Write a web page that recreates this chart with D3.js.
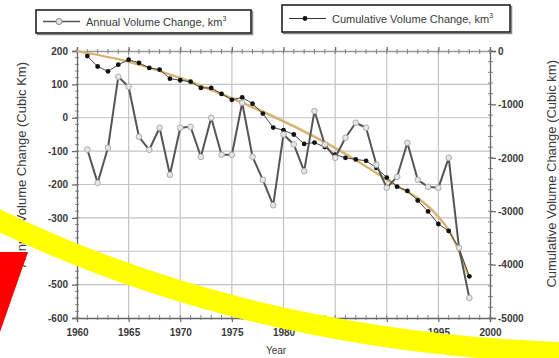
<!DOCTYPE html>
<html>
<head>
<meta charset="utf-8">
<script src="https://cdn.jsdelivr.net/npm/d3@7"></script>
<style>
  html, body { margin: 0; padding: 0; background: #fff; }
  svg { display: block; font-family: "Liberation Sans", Arial, sans-serif; }
</style>
</head>
<body>
<svg id="chart" width="559" height="358"></svg>
<script>
// years of the record
const years = [1961,1962,1963,1964,1965,1966,1967,1968,1969,1970,
  1971,1972,1973,1974,1975,1976,1977,1978,1979,1980,
  1981,1982,1983,1984,1985,1986,1987,1988,1989,1990,
  1991,1992,1993,1994,1995,1996,1997,1998];

// annual volume change, km3 (left axis)
const annual = [-95,-195,-90,123,93,-57,-96,-30,-171,-30,
  -27,-117,0,-111,-111,45,-117,-186,-262,-50,
  -80,-160,20,-80,-120,-60,-15,-30,-141,-210,
  -177,-75,-186,-207,-210,-120,-390,-540];

// cumulative volume change, km3 (right axis)
const cumulative = [-95,-290,-380,-257,-164,-221,-317,-347,-518,-548,
  -575,-692,-692,-803,-914,-869,-986,-1172,-1434,-1484,
  -1564,-1740,-1715,-1800,-1940,-2000,-2030,-2056,-2190,-2370,
  -2540,-2620,-2800,-3005,-3240,-3370,-3690,-4220];

// the two smooth fitted curves (right axis)
const fitYears = [1960,1965,1970,1975,1980,1985,1990,1995,1996,1997,1998];
const fitTan = [0,-205,-500,-880,-1310,-1810,-2410,-3100,-3350,-3750,-4250];
const fitOrange = [-20,-190,-520,-900,-1330,-1830,-2420,-3120,-3370,-3760,-4260];

const leftTicks = [200,100,0,-100,-200,-300,-400,-500,-600];
const rightTicks = [0,-1000,-2000,-3000,-4000,-5000];
const yearTicks = [1960,1965,1970,1975,1980,1985,1990,1995,2000];

const svg = d3.select("#chart");
const pLeft = 77, pRight = 490, pTop = 51, pBottom = 318;

const x = d3.scaleLinear().domain([1960, 2000]).range([pLeft, pRight]);
const yL = d3.scaleLinear().domain([-600, 200]).range([pBottom, pTop]);
const yR = d3.scaleLinear().domain([-5000, 0]).range([pBottom, pTop]);

const ink = "#3a3a3a";
const plain = d => String(d);

// grid
const grid = svg.append("g");
grid.selectAll(".gx").data(yearTicks.slice(1, -1)).enter().append("line")
  .attr("x1", d => x(d)).attr("x2", d => x(d))
  .attr("y1", pTop).attr("y2", pBottom)
  .attr("stroke", "#c4c4c4").attr("stroke-width", 1.2);
grid.selectAll(".gy").data(leftTicks.slice(1, -1)).enter().append("line")
  .attr("x1", pLeft).attr("x2", pRight)
  .attr("y1", d => yL(d)).attr("y2", d => yL(d))
  .attr("stroke", "#c4c4c4").attr("stroke-width", 1.2);

// axes
const axisL = svg.append("g").attr("transform", `translate(${pLeft},0)`)
  .call(d3.axisLeft(yL).tickValues(leftTicks).tickFormat(plain).tickSize(5).tickPadding(4));
const axisR = svg.append("g").attr("transform", `translate(${pRight},0)`)
  .call(d3.axisRight(yR).tickValues(rightTicks).tickFormat(plain).tickSize(6).tickPadding(2));
const axisB = svg.append("g").attr("transform", `translate(0,${pBottom})`)
  .call(d3.axisBottom(x).tickValues(yearTicks).tickFormat(plain).tickSize(4).tickPadding(7));
const axisT = svg.append("g").attr("transform", `translate(0,${pTop})`)
  .call(d3.axisTop(x).tickValues(yearTicks).tickFormat("").tickSize(4));

[axisL, axisR, axisB, axisT].forEach(a => {
  a.select(".domain").attr("stroke", "#666").attr("stroke-width", 1.3);
  a.selectAll(".tick line").attr("stroke", "#666").attr("stroke-width", 1.2);
  a.selectAll("text").attr("fill", ink).attr("font-size", 10).attr("font-weight", "bold");
});
axisT.select(".domain").attr("stroke", "#999");

// minor ticks
const minor = svg.append("g").attr("stroke", "#777").attr("stroke-width", 0.9);
minor.selectAll(".ml").data(d3.range(-600, 201, 20)).enter().append("line")
  .attr("x1", pLeft - 2).attr("x2", pLeft + 2)
  .attr("y1", d => yL(d)).attr("y2", d => yL(d));
minor.selectAll(".mr").data(d3.range(-5000, 1, 200)).enter().append("line")
  .attr("x1", pRight - 2).attr("x2", pRight + 3)
  .attr("y1", d => yR(d)).attr("y2", d => yR(d));
minor.selectAll(".mb").data(d3.range(1960, 2001, 1)).enter().append("line")
  .attr("x1", d => x(d)).attr("x2", d => x(d))
  .attr("y1", pBottom - 3).attr("y2", pBottom + 2);
minor.selectAll(".mt").data(d3.range(1960, 2001, 1)).enter().append("line")
  .attr("x1", d => x(d)).attr("x2", d => x(d))
  .attr("y1", pTop - 2).attr("y2", pTop + 3);

// axis titles
svg.append("text").attr("transform", `translate(26,62) rotate(-90)`)
  .attr("text-anchor", "end").attr("font-size", 13).attr("fill", ink)
  .text("Annual Volume Change (Cubic Km)");
svg.append("text").attr("transform", `translate(556,60) rotate(-90)`)
  .attr("text-anchor", "end").attr("font-size", 13).attr("fill", ink)
  .text("Cumulative Volume Change (Cubic km)");
svg.append("text").attr("x", 276).attr("y", 354)
  .attr("text-anchor", "middle").attr("font-size", 10).attr("fill", ink)
  .text("Year");

// fitted curves
const fitLine = vals => d3.line()
  .x((d, i) => x(fitYears[i])).y(d => yR(d))
  .curve(d3.curveMonotoneX)(vals);
svg.append("path").attr("d", fitLine(fitTan))
  .attr("fill", "none").attr("stroke", "#c9bf7a").attr("stroke-width", 2.2);
svg.append("path").attr("d", fitLine(fitOrange))
  .attr("fill", "none").attr("stroke", "#e8a468").attr("stroke-width", 1.1);

// cumulative series
svg.append("path")
  .attr("d", d3.line().x((d, i) => x(years[i])).y(d => yR(d))(cumulative))
  .attr("fill", "none").attr("stroke", "#333").attr("stroke-width", 0.9);
svg.selectAll(".cum").data(cumulative).enter().append("circle")
  .attr("cx", (d, i) => x(years[i])).attr("cy", d => yR(d)).attr("r", 2.4)
  .attr("fill", "#111");

// annual series
svg.append("path")
  .attr("d", d3.line().x((d, i) => x(years[i])).y(d => yL(d))(annual))
  .attr("fill", "none").attr("stroke", "#555").attr("stroke-width", 2)
  .attr("stroke-linejoin", "round");
svg.selectAll(".ann").data(annual).enter().append("circle")
  .attr("cx", (d, i) => x(years[i])).attr("cy", d => yL(d)).attr("r", 2.8)
  .attr("fill", "#e6e6e6").attr("stroke", "#aaa").attr("stroke-width", 1);

// legends
function legendBox(x0, y0, w, h, label, filled) {
  const g = svg.append("g");
  g.append("rect").attr("x", x0 + 1.5).attr("y", y0 + 1.5).attr("width", w).attr("height", h)
    .attr("fill", "none").attr("stroke", "#888").attr("stroke-width", 1.5);
  g.append("rect").attr("x", x0).attr("y", y0).attr("width", w).attr("height", h)
    .attr("fill", "#fff").attr("stroke", "#222").attr("stroke-width", 1.6);
  const cy = y0 + h / 2;
  g.append("line").attr("x1", x0 + 7).attr("x2", x0 + 44).attr("y1", cy).attr("y2", cy)
    .attr("stroke", filled ? "#333" : "#555").attr("stroke-width", filled ? 1 : 1.6);
  g.append("circle").attr("cx", x0 + 23).attr("cy", cy).attr("r", filled ? 2.4 : 3)
    .attr("fill", filled ? "#111" : "#e4e4e4").attr("stroke", filled ? "none" : "#888");
  const t = g.append("text").attr("x", x0 + 50).attr("y", cy + 4)
    .attr("font-size", 11).attr("fill", ink);
  t.append("tspan").text(label);
  t.append("tspan").attr("font-size", 7).attr("dy", -5).text("3");
}
legendBox(36, 10, 215, 23, "Annual Volume Change, km", false);
legendBox(282, 5, 228, 27, "Cumulative Volume Change, km", true);

// overlay marks present on the reference picture
svg.append("path").attr("d", "M0,252 L28,252 L0,332 Z").attr("fill", "#ff0000");
svg.append("path").attr("d", "M-10,216 C140,290 330,345 570,353")
  .attr("fill", "none").attr("stroke", "#ffff00").attr("stroke-width", 21);
</script>
</body>
</html>
